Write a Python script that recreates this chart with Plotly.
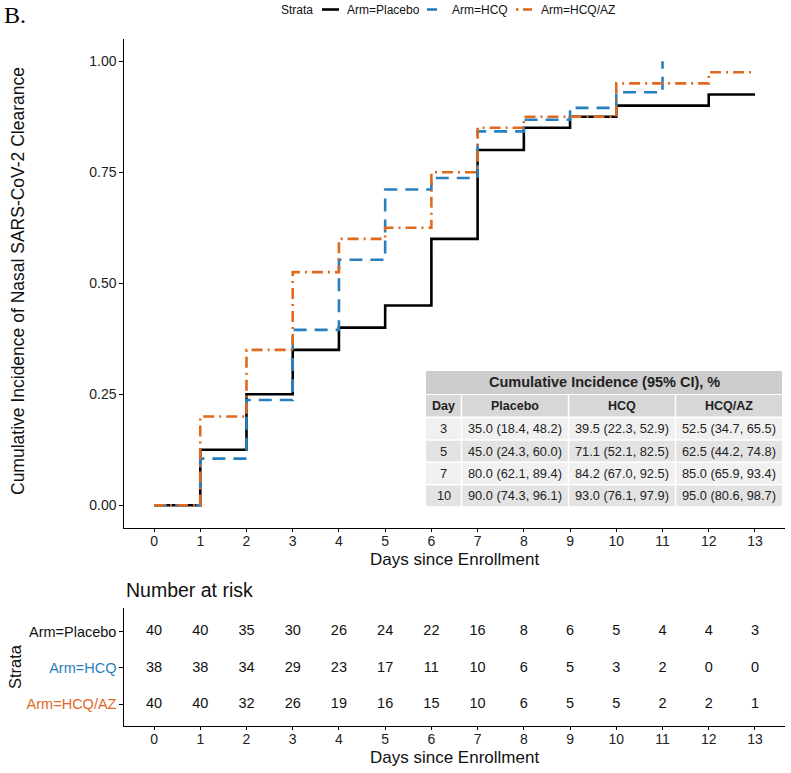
import plotly.graph_objects as go

W, H = 791, 773

# ---------------- data ----------------
days = list(range(0, 14))
placebo_ci = [0, 0.125, 0.25, 0.35, 0.40, 0.45, 0.60, 0.80, 0.85, 0.875, 0.90, 0.90, 0.925, 0.925]
hcq_days = list(range(0, 12))
hcq_ci = [0, 0.105, 0.237, 0.395, 0.553, 0.711, 0.737, 0.842, 0.868, 0.895, 0.93, 1.0]
hcqaz_ci = [0, 0.20, 0.35, 0.525, 0.60, 0.625, 0.75, 0.85, 0.875, 0.875, 0.95, 0.95, 0.975, 0.975]

strata = ["Arm=Placebo", "Arm=HCQ", "Arm=HCQ/AZ"]
risk_placebo = [40, 40, 35, 30, 26, 24, 22, 16, 8, 6, 5, 4, 4, 3]
risk_hcq = [38, 38, 34, 29, 23, 17, 11, 10, 6, 5, 3, 2, 0, 0]
risk_hcqaz = [40, 40, 32, 26, 19, 16, 15, 10, 6, 5, 5, 2, 2, 1]

y_ticks = [0.0, 0.25, 0.50, 0.75, 1.00]
y_ticklabels = ["0.00", "0.25", "0.50", "0.75", "1.00"]

table_title = "Cumulative Incidence (95% CI), %"
table_header = ["Day", "Placebo", "HCQ", "HCQ/AZ"]
table_day = ["3", "5", "7", "10"]
table_placebo = ["35.0 (18.4, 48.2)", "45.0 (24.3, 60.0)", "80.0 (62.1, 89.4)", "90.0 (74.3, 96.1)"]
table_hcq = ["39.5 (22.3, 52.9)", "71.1 (52.1, 82.5)", "84.2 (67.0, 92.5)", "93.0 (76.1, 97.9)"]
table_hcqaz = ["52.5 (34.7, 65.5)", "62.5 (44.2, 74.8)", "85.0 (65.9, 93.4)", "95.0 (80.6, 98.7)"]

# ---------------- style ----------------
BLACK = "#000000"
BLUE = "#2680BF"
ORANGE = "#E0691F"
FONT = "Liberation Sans, Arial, sans-serif"


def px_x(p):
    return p / W


def px_y(p):
    return 1 - p / H


fig = go.Figure()

fig.add_trace(go.Scatter(x=days, y=placebo_ci, mode="lines", line_shape="hv",
                         name=strata[0], showlegend=False,
                         line=dict(color=BLACK, width=2.6)))
fig.add_trace(go.Scatter(x=hcq_days, y=hcq_ci, mode="lines", line_shape="hv",
                         name=strata[1], showlegend=False,
                         line=dict(color=BLUE, width=2.6, dash="13px,8px")))
fig.add_trace(go.Scatter(x=days, y=hcqaz_ci, mode="lines", line_shape="hv",
                         name=strata[2], showlegend=False,
                         line=dict(color=ORANGE, width=2.6, dash="11px,5px,2px,5px")))

# risk table text
for vals, row in [(risk_placebo, 3), (risk_hcq, 2), (risk_hcqaz, 1)]:
    fig.add_trace(go.Scatter(x=days, y=[row] * len(days), mode="text",
                             text=[str(v) for v in vals], textposition="middle center",
                             textfont=dict(family=FONT, size=14.5, color="#111"),
                             showlegend=False, xaxis="x2", yaxis="y2", hoverinfo="skip"))

shapes = []
annotations = []

# ---------------- legend (ggplot style, drawn manually) ----------------
LEG_Y = 9.5
LEG_FONT = dict(family=FONT, size=12, color="#111")
annotations.append(dict(text="Strata", x=px_x(279), y=px_y(LEG_Y), xref="paper", yref="paper",
                        xanchor="left", yanchor="middle", showarrow=False, font=LEG_FONT))
# (label, colour, visible key pieces relative to key start, key start, text start)
legend_keys = [
    (strata[0], BLACK, [(0, 17)], 322, 345),
    (strata[1], BLUE, [(0, 10)], 427, 450),
    (strata[2], ORANGE, [(0, 2.5), (7, 16)], 516, 539),
]
for name, col, segs, k0, tx in legend_keys:
    for a, b in segs:
        shapes.append(dict(type="line", xref="paper", yref="paper",
                           x0=px_x(k0 + a), x1=px_x(k0 + b), y0=px_y(LEG_Y), y1=px_y(LEG_Y),
                           line=dict(color=col, width=2.6)))
    annotations.append(dict(text=name, x=px_x(tx), y=px_y(LEG_Y), xref="paper", yref="paper",
                            xanchor="left", yanchor="middle", showarrow=False, font=LEG_FONT))

# ---------------- CI table (drawn with shapes + annotations) ----------------
col_edges = [426, 461.5, 568.5, 675.5, 782]
title_rows = (371, 394)
header_rows = (395, 416.5)
body_top, body_h = 417.5, 22.4
row_fill = ["#f0f0f0", "#e3e3e3", "#f0f0f0", "#e3e3e3"]
gap = 0.75

shapes.append(dict(type="rect", xref="paper", yref="paper",
                   x0=px_x(col_edges[0]), x1=px_x(col_edges[-1]),
                   y0=px_y(title_rows[1]), y1=px_y(title_rows[0]),
                   fillcolor="#cdcdcd", line=dict(width=0), layer="above"))
annotations.append(dict(text="<b>%s</b>" % table_title,
                        x=px_x((col_edges[0] + col_edges[-1]) / 2), y=px_y(sum(title_rows) / 2),
                        xref="paper", yref="paper", xanchor="center", yanchor="middle",
                        showarrow=False, font=dict(family=FONT, size=14.5, color="#222")))

columns = [table_day, table_placebo, table_hcq, table_hcqaz]
for ci in range(4):
    x0, x1 = col_edges[ci] + gap, col_edges[ci + 1] - gap
    if ci == 0:
        x0 = col_edges[0]
    if ci == 3:
        x1 = col_edges[-1]
    shapes.append(dict(type="rect", xref="paper", yref="paper",
                       x0=px_x(x0), x1=px_x(x1), y0=px_y(header_rows[1]), y1=px_y(header_rows[0]),
                       fillcolor="#d7d7d7", line=dict(width=0), layer="above"))
    annotations.append(dict(text="<b>%s</b>" % table_header[ci],
                            x=px_x((col_edges[ci] + col_edges[ci + 1]) / 2),
                            y=px_y(sum(header_rows) / 2),
                            xref="paper", yref="paper", xanchor="center", yanchor="middle",
                            showarrow=False, font=dict(family=FONT, size=12.5, color="#222")))
    for ri, val in enumerate(columns[ci]):
        y0 = body_top + ri * body_h + gap
        y1 = body_top + (ri + 1) * body_h - gap
        shapes.append(dict(type="rect", xref="paper", yref="paper",
                           x0=px_x(x0), x1=px_x(x1), y0=px_y(y1), y1=px_y(y0),
                           fillcolor=row_fill[ri], line=dict(width=0), layer="above"))
        annotations.append(dict(text=val,
                                x=px_x((col_edges[ci] + col_edges[ci + 1]) / 2),
                                y=px_y((y0 + y1) / 2),
                                xref="paper", yref="paper", xanchor="center", yanchor="middle",
                                showarrow=False, font=dict(family=FONT, size=12.8, color="#222")))

annotations += [
    dict(text="B.", x=px_x(2), y=px_y(15), xref="paper", yref="paper", xanchor="left",
         yanchor="middle",
         showarrow=False, font=dict(family="Liberation Serif, Times New Roman, serif", size=24, color="black")),
    dict(text="Cumulative Incidence of Nasal SARS-CoV-2 Clearance", textangle=-90,
         x=px_x(18), y=px_y(281), xref="paper", yref="paper", showarrow=False,
         xanchor="center", yanchor="middle",
         font=dict(family=FONT, size=17.5, color="#111")),
    dict(text="Days since Enrollment", x=px_x(454.5), y=px_y(559), xref="paper", yref="paper",
         xanchor="center", yanchor="middle",
         showarrow=False, font=dict(family=FONT, size=17, color="#111")),
    dict(text="Number at risk", x=px_x(124), y=px_y(590), xref="paper", yref="paper",
         xanchor="left", yanchor="middle", showarrow=False, font=dict(family=FONT, size=19.5, color="#111")),
    dict(text="Strata", textangle=-90, x=px_x(15), y=px_y(667), xref="paper", yref="paper",
         xanchor="center", yanchor="middle",
         showarrow=False, font=dict(family=FONT, size=16.5, color="#111")),
    dict(text="Days since Enrollment", x=px_x(454.5), y=px_y(757), xref="paper", yref="paper",
         xanchor="center", yanchor="middle",
         showarrow=False, font=dict(family=FONT, size=17, color="#111")),
]

axis_common = dict(showgrid=False, zeroline=False, showline=True, linecolor="black",
                   linewidth=1.3, ticks="outside", ticklen=3.5, tickcolor="black",
                   tickwidth=1.1, tickfont=dict(family=FONT, size=14, color="#222"),
                   automargin=False)

x_dom = [px_x(124), px_x(785)]
fig.update_layout(
    width=W, height=H,
    margin=dict(l=0, r=0, t=0, b=0),
    paper_bgcolor="white", plot_bgcolor="white",
    font=dict(family=FONT, color="#222"),
    showlegend=False,
    xaxis=dict(domain=x_dom, range=[-0.65, 13.65], tickvals=days, anchor="y",
               ticklabelstandoff=-3, **axis_common),
    yaxis=dict(domain=[px_y(527.5), px_y(39)], range=[-0.05, 1.05], tickvals=y_ticks,
               ticktext=y_ticklabels, anchor="x", **axis_common),
    xaxis2=dict(domain=x_dom, range=[-0.65, 13.65], tickvals=days, anchor="y2",
                ticklabelstandoff=-3, **axis_common),
    yaxis2=dict(domain=[px_y(725.7), px_y(608)], range=[0.41, 3.65], tickvals=[3, 2, 1],
                ticktext=['<span style="color:#111">Arm=Placebo</span>',
                          '<span style="color:%s">Arm=HCQ</span>' % BLUE,
                          '<span style="color:%s">Arm=HCQ/AZ</span>' % ORANGE],
                anchor="x2", **{**axis_common, "tickfont": dict(family=FONT, size=14.5, color="#111")}),
    shapes=shapes,
    annotations=annotations,
)

fig.write_html("out.html", post_script="document.body.style.margin='0';",
               config={"displayModeBar": False})
